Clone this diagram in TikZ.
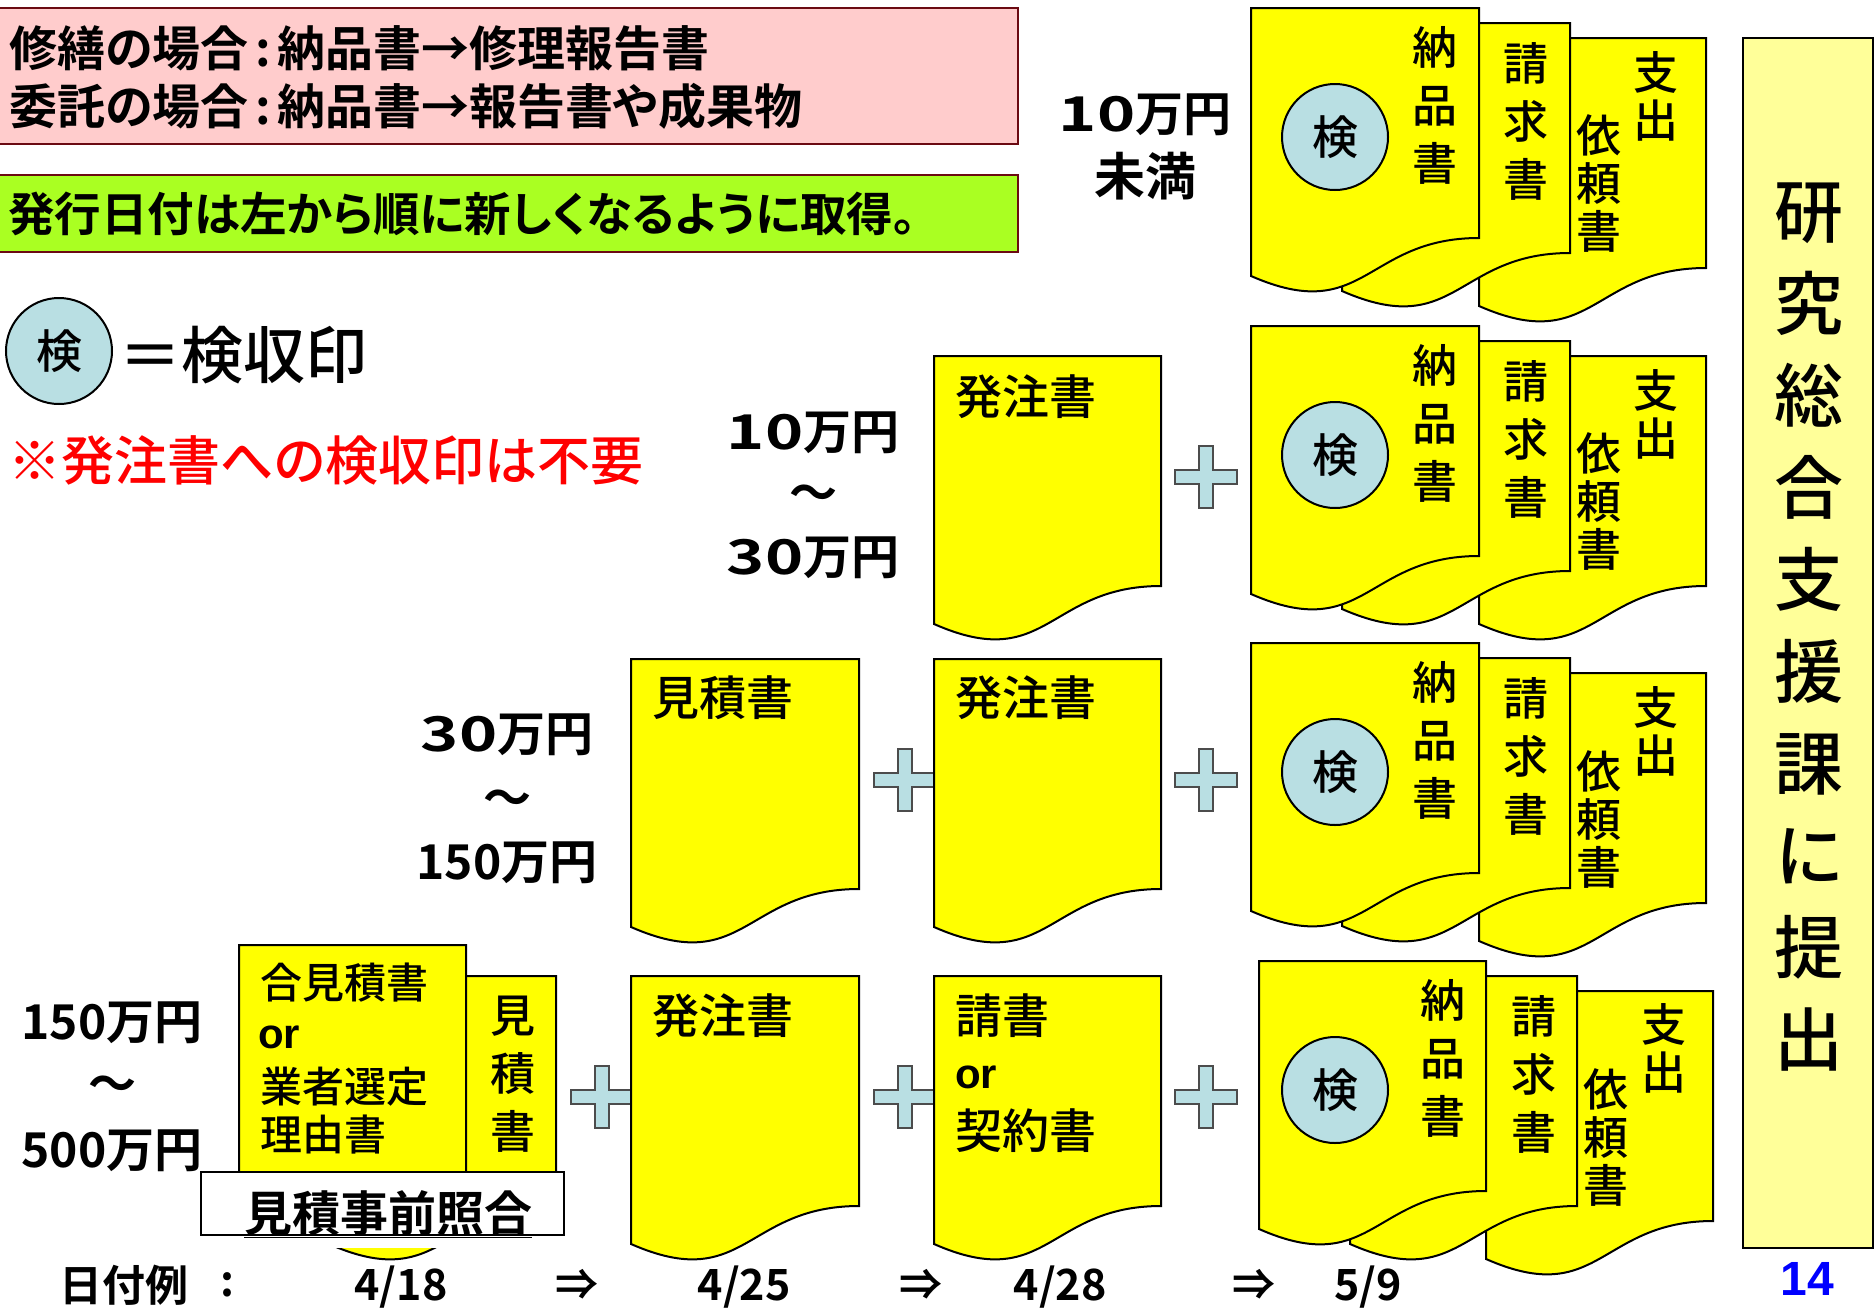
\documentclass[tikz,border=0pt]{standalone}
\usepackage{fontspec}
\setmainfont[RawFeature=+palt,BoldFont={Noto Sans CJK JP Bold}]{Noto Sans CJK JP Medium}
\newfontfamily\latinfont{Liberation Sans}
\definecolor{sheetyellow}{HTML}{FFFF00}
\definecolor{stampblue}{HTML}{B9DFE3}
\definecolor{notepink}{HTML}{FFCCCC}
\definecolor{notegreen}{HTML}{AAFF22}
\definecolor{noteline}{HTML}{6B0A12}
\definecolor{submitfill}{HTML}{FFFF99}
\newcommand{\docsheet}[3]{\draw [sheet] (#1,#2) -- ({#1+#3},#2) -- ({#1+#3},{#2+230}) .. controls ({#1+#3/2},{#2+230}) and ({#1+#3/2},{#2+318}) .. (#1,{#2+268}) -- cycle;}
\newcommand{\plussign}[2]{\draw [plusmark] ({#1-7},{#2-31}) -- ({#1+7},{#2-31}) -- ({#1+7},{#2-7}) -- ({#1+31},{#2-7}) -- ({#1+31},{#2+7}) -- ({#1+7},{#2+7}) -- ({#1+7},{#2+31}) -- ({#1-7},{#2+31}) -- ({#1-7},{#2+7}) -- ({#1-31},{#2+7}) -- ({#1-31},{#2-7}) -- ({#1-7},{#2-7}) -- cycle;}
\newcommand{\kenmark}{\raisebox{-2pt}{検}}
\newcommand{\colonmark}{\hspace{6.5pt}:\hspace{6.5pt}}
\begin{document}
\begin{tikzpicture}[x=1pt,y=-1pt]
	\tikzstyle{sheet} = [draw=black, line width=2, fill=sheetyellow]
	\tikzstyle{plusmark} = [draw=black!70, line width=2, fill=stampblue]
	\tikzstyle{stamp} = [circle, draw=black, line width=2, fill=stampblue, minimum size=106, inner sep=0, font=\fontsize{46}{50}\selectfont]
	\tikzstyle{vtext} = [inner sep=0, align=center, font=\fontsize{45}{58}\selectfont]
	\tikzstyle{vtight} = [inner sep=0, align=center, font=\fontsize{45}{48}\selectfont]
	\tikzstyle{doctext} = [inner sep=0, anchor=west, font=\fontsize{47}{50}\selectfont]
	\tikzstyle{smalltext} = [inner sep=0, anchor=west, font=\fontsize{42}{46}\selectfont]
	\tikzstyle{price} = [inner sep=0, font=\bfseries\fontsize{48}{50}\selectfont]
	\tikzstyle{notetext} = [inner sep=0, anchor=west, font=\bfseries\fontsize{48}{58}\selectfont]
	\tikzstyle{datetext} = [inner sep=0, font=\bfseries\fontsize{43}{46}\selectfont]
	\useasboundingbox (0,0) rectangle (1874,1310);

\fill [white] (0,0) rectangle (1874,1310);
\draw [draw=noteline, line width=2, fill=notepink] (-3,8) rectangle (1018,144);
\draw [draw=noteline, line width=2, fill=notegreen] (-3,175) rectangle (1018,252);
\node [notetext] (repair) at (9,48) {修繕の場合\colonmark 納品書→修理報告書};
\node [notetext] (consign) at (9,106) {委託の場合\colonmark 納品書→報告書や成果物};
\node [notetext, font=\bfseries\fontsize{46.5}{58}\selectfont] (order) at (8,214) {発行日付は左から順に新しくなるように取得。};
\node [stamp] (legendstamp) at (59,351) {\kenmark};
\node [inner sep=0, font=\fontsize{62}{70}\selectfont] (legendtext) at (243,355) {＝検収印};
\node [inner sep=0, anchor=west, text=red, font=\fontsize{53}{60}\selectfont] (nostamp) at (8,460) {※発注書への検収印は不要};

\docsheet{1479}{38}{227}
\docsheet{1342}{23}{228}
\docsheet{1251}{8}{228}
\node [stamp] (stampA) at (1335,137) {\kenmark};
\node [vtext] (deliveryA) at (1435,105) {納\\品\\書};
\node [vtext] (invoiceA) at (1526,121) {請\\求\\書};
\node [vtight] (requestA) at (1599,184) {依\\頼\\書};
\node [vtight] (payA) at (1656,96) {支\\出};
\node [price] (lowA) at (1145,115) {\scalebox{1.35}[1]{10}万円};
\node [price, font=\bfseries\fontsize{51}{50}\selectfont] (lowB) at (1145,176) {未満};

\plussign{1206}{477}
\docsheet{934}{356}{227}
\docsheet{1479}{356}{227}
\docsheet{1342}{341}{228}
\docsheet{1251}{326}{228}
\node [doctext] (orderB) at (955,397) {発注書};
\node [stamp] (stampB) at (1335,455) {\kenmark};
\node [vtext] (deliveryB) at (1435,423) {納\\品\\書};
\node [vtext] (invoiceB) at (1526,439) {請\\求\\書};
\node [vtight] (requestB) at (1599,502) {依\\頼\\書};
\node [vtight] (payB) at (1656,414) {支\\出};
\node [price] (midA) at (813,433) {\scalebox{1.35}[1]{10}万円};
\node [price] (midB) at (813,498) {～};
\node [price] (midC) at (813,558) {\scalebox{1.35}[1]{30}万円};

\plussign{905}{780}
\plussign{1206}{780}
\docsheet{631}{659}{228}
\docsheet{934}{659}{227}
\docsheet{1479}{673}{227}
\docsheet{1342}{658}{228}
\docsheet{1251}{643}{228}
\node [doctext] (quoteC) at (652,698) {見積書};
\node [doctext] (orderC) at (955,698) {発注書};
\node [stamp] (stampC) at (1335,772) {\kenmark};
\node [vtext] (deliveryC) at (1435,740) {納\\品\\書};
\node [vtext] (invoiceC) at (1526,756) {請\\求\\書};
\node [vtight] (requestC) at (1599,819) {依\\頼\\書};
\node [vtight] (payC) at (1656,731) {支\\出};
\node [price] (highA) at (507,735) {\scalebox{1.35}[1]{30}万円};
\node [price] (highB) at (507,803) {～};
\node [price] (highC) at (507,863) {150万円};

\plussign{602}{1097}
\plussign{905}{1097}
\plussign{1206}{1097}
\docsheet{329}{976}{227}
\docsheet{239}{945}{227}
\docsheet{631}{976}{228}
\docsheet{934}{976}{227}
\docsheet{1486}{991}{227}
\docsheet{1350}{976}{227}
\docsheet{1259}{961}{227}
\node [smalltext] (quoteD) at (260,983) {合見積書};
\node [inner sep=0, anchor=west, font=\latinfont\bfseries\fontsize{42}{46}\selectfont] (orD) at (258,1037) {or};
\node [smalltext] (reasonD) at (260,1087) {業者選定};
\node [smalltext] (reasonE) at (260,1135) {理由書};
\node [vtext] (quoteE) at (513,1074) {見\\積\\書};
\fill [white] (201,1172) rectangle (564,1248);
\draw [draw=black, line width=2, fill=white] (201,1172) rectangle (564,1235);
\node [inner sep=0, font=\bfseries\fontsize{48}{50}\selectfont] (precheck) at (388,1214) {\underline{見積事前照合}};
\node [doctext] (orderD) at (652,1016) {発注書};
\node [doctext] (contractA) at (955,1016) {請書};
\node [inner sep=0, anchor=west, font=\latinfont\bfseries\fontsize{42}{46}\selectfont] (orE) at (955,1077) {or};
\node [doctext] (contractB) at (955,1131) {契約書};
\node [stamp] (stampD) at (1335,1090) {\kenmark};
\node [vtext] (deliveryD) at (1443,1058) {納\\品\\書};
\node [vtext] (invoiceD) at (1534,1074) {請\\求\\書};
\node [vtight] (requestD) at (1606,1137) {依\\頼\\書};
\node [vtight] (payD) at (1664,1048) {支\\出};
\node [price] (topA) at (112,1023) {150万円};
\node [price] (topB) at (112,1089) {～};
\node [price] (topC) at (112,1151) {500万円};

\draw [draw=black, line width=2, fill=submitfill] (1743,38) rectangle (1873,1248);
\node [inner sep=0, align=center, font=\fontsize{69}{92}\selectfont] (submit) at (1809,627) {研\\究\\総\\合\\支\\援\\課\\に\\提\\出};

\node [datetext] (dateA) at (124,1285) {日付例};
\node [datetext] (dateB) at (227,1285) {:};
\node [datetext] (dateC) at (401,1287) {4/18};
\node [datetext] (nextA) at (577,1285) {⇒};
\node [datetext] (dateD) at (744,1287) {4/25};
\node [datetext] (nextB) at (921,1285) {⇒};
\node [datetext] (dateE) at (1060,1287) {4/28};
\node [datetext] (nextC) at (1254,1285) {⇒};
\node [datetext] (dateF) at (1368,1287) {5/9};
\node [inner sep=0, text=blue, font=\latinfont\bfseries\fontsize{48}{50}\selectfont] (pagenum) at (1807,1279) {14};
\end{tikzpicture}
\end{document}
